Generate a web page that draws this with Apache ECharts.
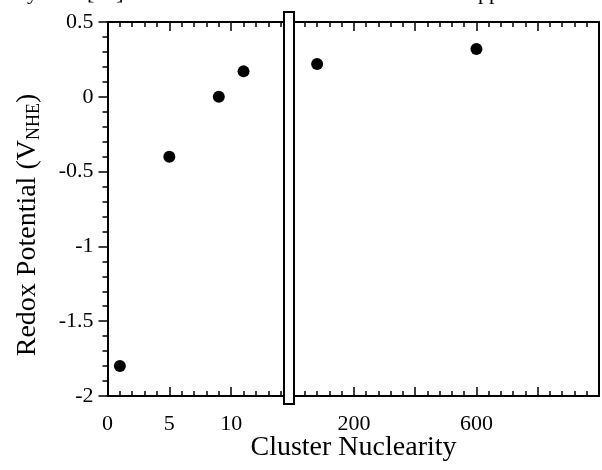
<!DOCTYPE html>
<html>
<head>
<meta charset="utf-8">
<script src="https://cdn.jsdelivr.net/npm/echarts@6/dist/echarts.min.js"></script>
<style>
html, body { margin: 0; padding: 0; background: #fff; }
#main { width: 602px; height: 470px; }
</style>
</head>
<body>
<div id="main"></div>
<script>
// data
var leftX = [1, 5, 9, 11];
var leftY = [-1.8, -0.4, 0, 0.17];
var rightX = [80, 600];
var rightY = [0.22, 0.32];
var leftLabels = [0, 5, 10];
var rightLabels = [200, 600];

var serif = 'Liberation Serif';
var dom = document.getElementById('main');
var chart = echarts.init(dom);

function zip(a, b) {
	return a.map(function (v, i) { return [v, b[i]]; });
}

function xAxisOf(grid, pos, min, max, step, labels) {
	return {
		type: 'value',
		gridIndex: grid,
		position: pos,
		min: min,
		max: max,
		interval: step,
		axisLine: { onZero: false, lineStyle: { color: '#000', width: 2 } },
		axisTick: { inside: true, length: 9, lineStyle: { color: '#000', width: 1.5 } },
		minorTick: { show: true, splitNumber: 5, length: 5, lineStyle: { color: '#000', width: 1.5 } },
		splitLine: { show: false },
		axisLabel: {
			show: pos === 'bottom',
			margin: 17,
			color: '#000',
			fontFamily: serif,
			fontSize: 22,
			formatter: function (v) {
				return labels.indexOf(v) >= 0 ? String(v) : '';
			}
		}
	};
}

var option = {
	animation: false,
	backgroundColor: '#fff',
	grid: [
		{ left: 107.5, top: 22, width: 185.5, height: 374 },
		{ left: 292.6, top: 22, width: 307.4, height: 374 }
	],
	xAxis: [
		xAxisOf(0, 'bottom', 0, 15, 5, leftLabels),
		xAxisOf(0, 'top', 0, 15, 5, leftLabels),
		xAxisOf(1, 'bottom', 0, 1000, 200, rightLabels),
		xAxisOf(1, 'top', 0, 1000, 200, rightLabels)
	],
	yAxis: [
		{
			type: 'value',
			gridIndex: 0,
			min: -2,
			max: 0.5,
			interval: 0.5,
			axisLine: { onZero: false, lineStyle: { color: '#000', width: 2 } },
			axisTick: { inside: false, length: 9, lineStyle: { color: '#000', width: 1.5 } },
			minorTick: { show: true, splitNumber: 5, length: 5, lineStyle: { color: '#000', width: 1.5 } },
			splitLine: { show: false },
			axisLabel: { margin: 14, color: '#000', fontFamily: serif, fontSize: 22 }
		},
		{
			type: 'value',
			gridIndex: 1,
			position: 'right',
			min: -2,
			max: 0.5,
			axisLine: { onZero: false, lineStyle: { color: '#000', width: 2 } },
			axisTick: { show: false },
			splitLine: { show: false },
			axisLabel: { show: false }
		}
	],
	series: [
		{
			type: 'scatter',
			xAxisIndex: 0,
			yAxisIndex: 0,
			symbolSize: 12,
			itemStyle: { color: '#000', opacity: 1 },
			data: zip(leftX, leftY)
		},
		{
			type: 'scatter',
			xAxisIndex: 2,
			yAxisIndex: 1,
			symbolSize: 12,
			itemStyle: { color: '#000', opacity: 1 },
			data: zip(rightX, rightY)
		}
	],
	graphic: [
		// axis break bar
		{
			type: 'rect',
			z: 100,
			shape: { x: 284, y: 12, width: 10, height: 392 },
			style: { fill: '#fff', stroke: '#000', lineWidth: 2 }
		},
		{
			type: 'text',
			x: 353.5,
			y: 448,
			style: {
				text: 'Cluster Nuclearity',
				font: '28px "Liberation Serif"',
				fill: '#000',
				align: 'center',
				verticalAlign: 'middle'
			}
		},
		{
			type: 'text',
			x: 28,
			y: 225,
			rotation: Math.PI / 2,
			style: {
				text: 'Redox Potential (V{s|NHE})',
				font: '28px "Liberation Serif"',
				fill: '#000',
				align: 'center',
				verticalAlign: 'middle',
				lineHeight: 30,
				rich: {
					s: { fontSize: 18, fontFamily: serif, lineHeight: 14, verticalAlign: 'bottom', fill: '#000' }
				}
			}
		},
		// cut-off page text above the figure
		{ type: 'text', x: 27, y: -7, style: { text: 'y', font: '22px "Liberation Serif"', fill: '#000', verticalAlign: 'middle' } },
		{ type: 'text', x: 87, y: -7, style: { text: '[12]', font: '22px "Liberation Serif"', fill: '#000', verticalAlign: 'middle' } },
		{ type: 'text', x: 478, y: -7, style: { text: 'pp', font: '22px "Liberation Serif"', fill: '#000', verticalAlign: 'middle' } }
	]
};

chart.setOption(option);
</script>
</body>
</html>
